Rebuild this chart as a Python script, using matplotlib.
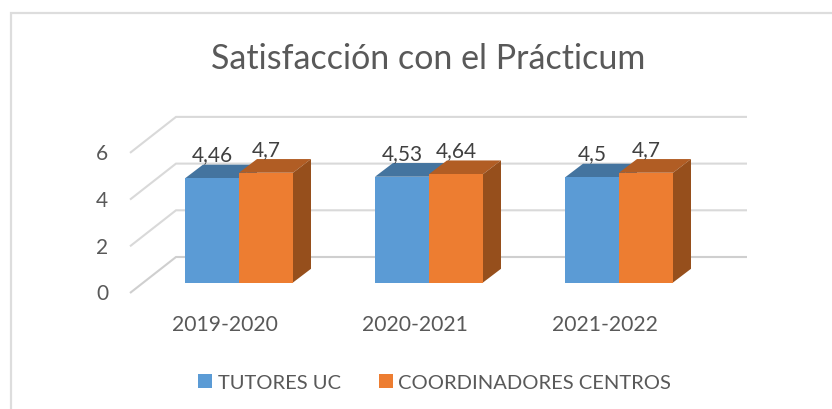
import matplotlib
matplotlib.use("Agg")
import matplotlib.pyplot as plt
from matplotlib.patches import Polygon, Rectangle

TITLE = "Satisfacción con el Prácticum"
categories = ["2019-2020", "2020-2021", "2021-2022"]
series_names = ["TUTORES UC", "COORDINADORES CENTROS"]
tutores = [4.46, 4.53, 4.5]
coordinadores = [4.7, 4.64, 4.7]
value_ticks = [0, 2, 4, 6]
value_labels = ["4,46", "4,53", "4,5"], ["4,7", "4,64", "4,7"]

W, H = 832, 410
X0, GROUP, UNIT, BASE = 239.0, 190.0, 23.35, 283.5   # pixel calibration
BAR_W = 54 / GROUP
DX, DY = 18 / GROUP, 13.7 / UNIT

BLUE, BLUE_TOP = "#5B9BD5", "#44749F"
ORANGE, ORANGE_TOP, ORANGE_SIDE = "#ED7D31", "#B15D24", "#964F1C"
GRID = "#D9D9D9"
TEXT = "#595959"
plt.rcParams["font.family"] = ["Lato", "DejaVu Sans"]

fig = plt.figure(figsize=(W / 100, H / 100), dpi=100, facecolor="white")
ax = fig.add_axes([0, 0, 1, 1])
ax.set_xlim((0 - X0) / GROUP, (W - X0) / GROUP)
ax.set_ylim((BASE - H) / UNIT, BASE / UNIT)
ax.axis("off")

px = lambda p: (p - X0) / GROUP
py = lambda p: (BASE - p) / UNIT

# chart frame: left and top edges only
ax.plot([px(11), px(11), px(832)], [py(410), py(14), py(14)],
        color="#DDDDDD", lw=1.6, solid_joinstyle="miter", zorder=1)

# walls / gridlines
WALL_L, WALL_R, FLOOR_L = px(176), px(747), px(130)
WALL_UP, FLOOR_DOWN = (BASE - 258) / UNIT, (294 - BASE) / UNIT
for v in value_ticks:
    ax.plot([FLOOR_L, WALL_L, WALL_R], [v - FLOOR_DOWN, v + WALL_UP, v + WALL_UP],
            color="#CFCFCF" if v == 0 else GRID, lw=1.5, zorder=2,
            solid_joinstyle="miter", solid_capstyle="butt")
    ax.text(px(102), v - FLOOR_DOWN - 6.5 / UNIT, str(v), ha="center", va="baseline",
            fontsize=15, color=TEXT, zorder=6)


def bar(x, v, w, front, top, side):
    ax.add_patch(Polygon([(x, v), (x + DX, v + DY), (x + w + DX, v + DY), (x + w, v)],
                         closed=True, fc=top, ec="none", zorder=3))
    ax.add_patch(Polygon([(x + w, 0), (x + w + DX, DY), (x + w + DX, v + DY), (x + w, v)],
                         closed=True, fc=side, ec="none", zorder=3))
    ax.add_patch(Rectangle((x, 0), w, v, fc=front, ec="none", zorder=4))


for i, cat in enumerate(categories):
    bar(i - BAR_W, tutores[i], BAR_W, BLUE, BLUE_TOP, BLUE_TOP)
    bar(i, coordinadores[i], BAR_W, ORANGE, ORANGE_TOP, ORANGE_SIDE)
    ax.text(i - BAR_W / 2, tutores[i] + 18 / UNIT, value_labels[0][i], ha="center",
            va="baseline", fontsize=15, color="#404040", zorder=7)
    ax.text(i + BAR_W / 2, coordinadores[i] + 18 / UNIT, value_labels[1][i], ha="center",
            va="baseline", fontsize=15, color="#404040", zorder=7)
    ax.text(i - 14 / GROUP, py(331), cat, ha="center", va="baseline", fontsize=15.2, color=TEXT)

ax.text(px(428), py(69), TITLE, ha="center", va="baseline", fontsize=24.5, color=TEXT)

# legend
for color, sx, tx, name in [(BLUE, 198.5, 218, series_names[0]), (ORANGE, 378.5, 398, series_names[1])]:
    ax.add_patch(Rectangle((px(sx), py(389)), 14 / GROUP, 14 / UNIT, fc=color, ec="none", zorder=3))
    ax.text(px(tx), py(389), name, ha="left", va="baseline", fontsize=14.5, color=TEXT)

fig.savefig("out.png", dpi=100, facecolor="white")
